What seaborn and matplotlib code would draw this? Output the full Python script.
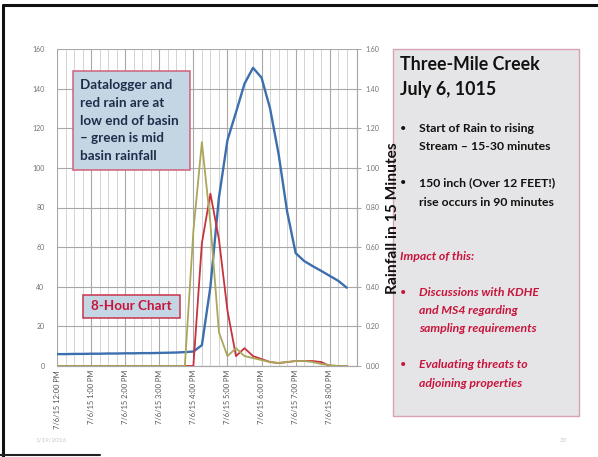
import pandas as pd
import matplotlib.pyplot as plt
import seaborn as sns
from matplotlib.patches import Rectangle
from matplotlib.lines import Line2D

# Datalogger readings every 15 min from noon, 7/6/15
times = pd.date_range("2015-07-06 12:00", periods=35, freq="15min")

# Stream level (left axis)
level = [6.0, 6.0, 6.1, 6.1, 6.2, 6.2, 6.3, 6.3, 6.4, 6.4, 6.5, 6.5, 6.6, 6.7, 6.8, 7.0,
         7.3, 10.5, 40, 85, 114, 128, 142.5, 150.5, 145.5, 130, 107, 78, 57, 53, 50.4,
         48, 45.5, 43, 39.5]

# Rainfall in 15 minutes (right axis)
rain_mid = [0] * 16 + [0.68, 1.13, 0.72, 0.17, 0.05, 0.09, 0.05, 0.04, 0.03, 0.02,
                       0.015, 0.02, 0.025, 0.025, 0.02, 0.01, 0.005, 0, 0]
rain_low = [0] * 17 + [0.62, 0.87, 0.64, 0.28, 0.05, 0.09, 0.05, 0.035, 0.02,
                       0.015, 0.02, 0.025, 0.025, 0.025, 0.02, 0, 0, 0]

hour_ticks = pd.date_range("2015-07-06 12:00", periods=9, freq="60min")
tick_labels = ["7/6/15 12:00 PM", "7/6/15 1:00 PM", "7/6/15 2:00 PM", "7/6/15 3:00 PM",
               "7/6/15 4:00 PM", "7/6/15 5:00 PM", "7/6/15 6:00 PM", "7/6/15 7:00 PM",
               "7/6/15 8:00 PM"]
left_ticks = [0, 20, 40, 60, 80, 100, 120, 140, 160]
right_ticks = [0.0, 0.2, 0.4, 0.6, 0.8, 1.0, 1.2, 1.4, 1.6]

BLUE = "#3c6fae"
RED = "#c8323e"
GREEN = "#aaa65a"
PINK_RED = "#c8143c"
GREY_TXT = "#707070"

sns.set_style("white")
plt.rcParams["font.family"] = ["Lato", "DejaVu Sans"]

W, H = 598, 457


def fx(x):
    return x / W


def fy(y):
    return 1 - y / H


fig = plt.figure(figsize=(W / 100, H / 100), dpi=100)
fig.patch.set_facecolor("white")

# photo frame edges
fig.add_artist(Line2D([fx(3), 1], [fy(5), fy(5)], color="#111111", lw=2.2))
fig.add_artist(Line2D([fx(3), fx(3)], [fy(5), 0], color="#111111", lw=2.2))
fig.add_artist(Line2D([0, fx(100)], [fy(455), fy(455)], color="#222222", lw=1.5))

ax = fig.add_axes([fx(57), fy(366), 300 / W, 317 / H])
ax2 = ax.twinx()

df = pd.DataFrame({"time": times, "level": level, "mid": rain_mid, "low": rain_low})

sns.lineplot(data=df, x="time", y="level", ax=ax, color=BLUE, lw=1.7)
sns.lineplot(data=df, x="time", y="low", ax=ax2, color=RED, lw=1.3)
sns.lineplot(data=df, x="time", y="mid", ax=ax2, color=GREEN, lw=1.3)

x0 = times[0]
x1 = times[0] + pd.Timedelta(minutes=15 * 35.2)
ax.set_xlim(x0, x1)
ax.set_ylim(0, 160)
ax2.set_ylim(0, 1.6)

ax.set_yticks(left_ticks)
ax.set_yticklabels([str(v) for v in left_ticks], fontsize=5, color=GREY_TXT)
ax2.set_yticks(right_ticks)
ax2.set_yticklabels([f"{v:.2f}" for v in right_ticks], fontsize=5, color=GREY_TXT)

ax.set_xticks(hour_ticks)
ax.set_xticklabels(tick_labels, rotation=90, fontsize=5.4, color="#555555")
ax.set_xticks(times, minor=True)

ax.grid(True, which="major", axis="both", color="#a8a8a8", lw=0.8)
ax.grid(True, which="minor", axis="x", color="#d4d4d4", lw=0.7)
ax.tick_params(axis="x", which="both", length=0, pad=3)
ax.tick_params(axis="y", length=0, pad=9)
ax2.tick_params(axis="y", length=3, width=0.6, color="#999999", pad=3)
ax2.grid(False)

ax.set_xlabel("")
ax.set_ylabel("")
ax2.set_ylabel("")
for a in (ax, ax2):
    for s in ("top", "left"):
        a.spines[s].set_visible(False)
    a.spines["bottom"].set_color("#a8a8a8")
    a.spines["right"].set_color("#a8a8a8")
    a.spines["right"].set_linewidth(0.8)

fig.text(fx(393), fy(218), "Rainfall in 15 Minutes", rotation=90, ha="center",
         va="center", fontsize=11.2, fontweight="bold", color="#111111")

# note box on chart
fig.add_artist(Rectangle((fx(73), fy(170)), 117 / W, 99 / H, transform=fig.transFigure,
                         facecolor="#c4d6e4", edgecolor="#d0607a", lw=1.1))
note = ["Datalogger and", "red rain are at", "low end of basin", "\u2013 green is mid",
        "basin rainfall"]
for k, line in enumerate(note):
    fig.text(fx(80), fy(85 + 17.8 * k), line, ha="left", va="center", fontsize=9.7,
             fontweight="bold", color="#1f2d4a")

fig.add_artist(Rectangle((fx(83), fy(318)), 97 / W, 23 / H, transform=fig.transFigure,
                         facecolor="#c4d6e4", edgecolor="#c8324a", lw=1.1))
fig.text(fx(131.5), fy(306.5), "8-Hour Chart", ha="center", va="center", fontsize=9.7,
         fontweight="bold", color=PINK_RED)

# right side panel
fig.add_artist(Rectangle((fx(393), fy(416)), 186 / W, 367 / H, transform=fig.transFigure,
                         facecolor="#e5e5e7", edgecolor="#d8a2b2", lw=1.0))
fig.text(fx(400), fy(65), "Three-Mile Creek", ha="left", va="center", fontsize=12.8,
         fontweight="bold", color="#111111")
fig.text(fx(400), fy(90), "July 6, 1015", ha="left", va="center", fontsize=12.8,
         fontweight="bold", color="#111111")

black_bullets = [["Start of Rain to rising", "Stream \u2013 15-30 minutes"],
                 ["150 inch (Over 12 FEET!)", "rise occurs in 90 minutes"]]
for lines, y in zip(black_bullets, [128, 183]):
    fig.text(fx(403), fy(y), "\u2022", ha="center", va="center", fontsize=8,
             color="#111111")
    for k, line in enumerate(lines):
        fig.text(fx(419), fy(y + 19 * k), line, ha="left", va="center", fontsize=8.8,
                 fontweight="bold", color="#111111")

fig.text(fx(400), fy(256), "Impact of this:", ha="left", va="center", fontsize=8.8,
         fontweight="bold", fontstyle="italic", color=PINK_RED)
red_bullets = [["Discussions with KDHE", "and MS4 regarding", "sampling requirements"],
               ["Evaluating threats to", "adjoining properties"]]
for lines, y in zip(red_bullets, [292, 365]):
    fig.text(fx(403), fy(y), "\u2022", ha="center", va="center", fontsize=8,
             color=PINK_RED)
    for k, line in enumerate(lines):
        fig.text(fx(419), fy(y + 18.5 * k), line, ha="left", va="center", fontsize=8.8,
                 fontweight="bold", fontstyle="italic", color=PINK_RED)

fig.text(fx(35), fy(440), "1/19/2016", ha="left", va="center", fontsize=4.5,
         color="#c8c8c8")
fig.text(fx(563), fy(440), "33", ha="center", va="center", fontsize=4.5, color="#c8c8c8")

fig.savefig("out.png", dpi=100)
